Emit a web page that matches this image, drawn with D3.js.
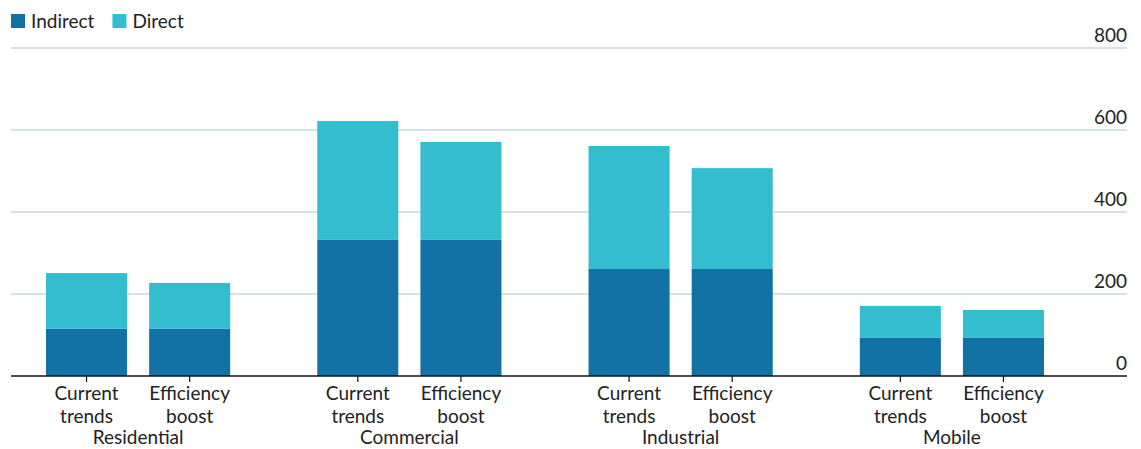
<!DOCTYPE html>
<html>
<head>
<meta charset="utf-8">
<script src="https://cdn.jsdelivr.net/npm/d3@7"></script>
<style>
  html, body { margin: 0; padding: 0; background: #fff; }
  svg { display: block; font-family: Lato, "Noto Sans", sans-serif; }
</style>
</head>
<body>
<svg id="chart" width="1141" height="449"></svg>
<script>
// Sector energy demand under two scenarios, split into indirect and direct use
const sectors = ["Residential", "Commercial", "Industrial", "Mobile"];
const scenarios = ["Current trends", "Efficiency boost"];
const scenarioLines = [["Current", "trends"], ["Efficiency", "boost"]];
const indirect = [
  [115, 115],
  [332, 332],
  [261, 261],
  [93, 93]
];
const direct = [
  [136, 112],
  [290, 239],
  [300, 246],
  [78, 68]
];
const seriesNames = ["Indirect", "Direct"];
const seriesColors = ["#1271a5", "#34bdcf"];
const yTicks = [0, 200, 400, 600, 800];

const svg = d3.select("#chart");
const plotLeft = 11, plotRight = 1127;

const y = d3.scaleLinear().domain([0, 800]).range([376, 48]);

const x0 = d3.scaleBand()
  .domain(sectors)
  .range([46, 1044])
  .paddingInner(0.321)
  .paddingOuter(0);

const x1 = d3.scaleBand()
  .domain(scenarios)
  .range([0, x0.bandwidth()])
  .paddingInner(0.214)
  .paddingOuter(0);

// Gridlines and right-side value labels
const grid = svg.append("g");
grid.selectAll("line")
  .data(yTicks.filter(d => d > 0))
  .join("line")
  .attr("x1", plotLeft).attr("x2", plotRight)
  .attr("y1", d => y(d)).attr("y2", d => y(d))
  .attr("stroke", "#a9c6d6").attr("stroke-width", 1.2);

grid.selectAll("text")
  .data(yTicks)
  .join("text")
  .attr("x", plotRight)
  .attr("y", d => y(d) - 6)
  .attr("text-anchor", "end")
  .attr("font-size", 19)
  .attr("fill", "#222")
  .text(d => d);

// Stacked bars
const rows = [];
sectors.forEach((s, i) => {
  scenarios.forEach((sc, j) => {
    rows.push({ sector: s, scenario: sc, j, Indirect: indirect[i][j], Direct: direct[i][j] });
  });
});

const stack = d3.stack().keys(seriesNames);
const layers = stack(rows);

svg.append("g")
  .selectAll("g")
  .data(layers)
  .join("g")
  .attr("fill", (d, i) => seriesColors[i])
  .selectAll("rect")
  .data(d => d)
  .join("rect")
  .attr("x", d => x0(d.data.sector) + x1(d.data.scenario))
  .attr("width", x1.bandwidth())
  .attr("y", d => y(d[1]))
  .attr("height", d => y(d[0]) - y(d[1]));

// Baseline and ticks
svg.append("line")
  .attr("x1", plotLeft).attr("x2", plotRight)
  .attr("y1", y(0)).attr("y2", y(0))
  .attr("stroke", "#111").attr("stroke-width", 1.3);

const labels = svg.append("g").attr("fill", "#222").attr("font-size", 19);

rows.forEach(r => {
  const cx = x0(r.sector) + x1(r.scenario) + x1.bandwidth() / 2;
  svg.append("line")
    .attr("x1", cx).attr("x2", cx)
    .attr("y1", y(0)).attr("y2", y(0) + 6)
    .attr("stroke", "#111").attr("stroke-width", 1.2);
  const t = labels.append("text")
    .attr("x", cx)
    .attr("y", 400)
    .attr("text-anchor", "middle");
  scenarioLines[r.j].forEach((line, k) => {
    t.append("tspan").attr("x", cx).attr("dy", k === 0 ? 0 : 23).text(line);
  });
});

sectors.forEach(s => {
  labels.append("text")
    .attr("x", x0(s) + x0.bandwidth() / 2)
    .attr("y", 444)
    .attr("text-anchor", "middle")
    .text(s);
});

// Legend
const legend = svg.append("g");
let lx = 11;
seriesNames.forEach((name, i) => {
  const g = legend.append("g").attr("transform", `translate(${lx},0)`);
  g.append("rect").attr("x", 0).attr("y", 14).attr("width", 14).attr("height", 14)
    .attr("fill", seriesColors[i]);
  const t = g.append("text").attr("x", 20).attr("y", 28)
    .attr("font-size", 19).attr("fill", "#222").text(name);
  lx += 20 + t.node().getComputedTextLength() + 18;
});
</script>
</body>
</html>
